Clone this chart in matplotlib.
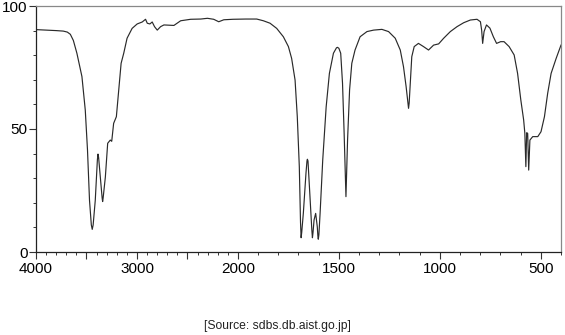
import numpy as np
import matplotlib
matplotlib.use("Agg")
import matplotlib.pyplot as plt
from matplotlib.ticker import FixedLocator, FixedFormatter

plt.rcParams['font.family'] = ['Liberation Sans', 'DejaVu Sans']

# Wavenumber (cm-1) and transmittance (%)
wavenumber = [4000, 3900, 3800, 3730, 3690, 3660, 3630, 3595, 3545, 3512, 3490,
              3470, 3452, 3443, 3434, 3413, 3392, 3386, 3380, 3363, 3345, 3340,
              3335, 3313, 3290, 3264, 3250, 3231, 3204, 3181, 3157, 3131, 3098,
              3048, 2998, 2948, 2915, 2898, 2872, 2849, 2826, 2799, 2766, 2733,
              2634, 2567, 2468, 2368, 2302, 2240, 2190, 2140, 2050, 1960, 1907,
              1874, 1841, 1808, 1775, 1750, 1734, 1717, 1706, 1696, 1690, 1687,
              1684, 1676, 1663, 1658, 1656, 1653, 1646, 1634, 1631, 1628, 1623,
              1615, 1607, 1604, 1602, 1599, 1593, 1580, 1563, 1547, 1527, 1512,
              1507, 1500, 1491, 1482, 1474, 1467, 1465, 1463, 1457, 1447, 1436,
              1420, 1395, 1361, 1328, 1287, 1254, 1221, 1196, 1180, 1167, 1158,
              1155, 1152, 1147, 1139, 1127, 1106, 1081, 1056, 1031, 1006, 981,
              948, 915, 882, 849, 816, 799, 793, 788, 781, 769, 752, 735, 719,
              699, 682, 657, 632, 615, 599, 585, 579, 574, 570, 565, 560, 554,
              540, 515, 499, 482, 466, 449, 424, 400]
transmittance = [90.4, 90.2, 90.0, 89.8, 89.4, 88.5, 86.0, 80.8, 71.3, 57.7, 41.5,
                 21.0, 11.0, 9.2, 11.0, 21.0, 37.5, 39.8, 38.5, 30.5, 22.0, 20.5,
                 22.0, 30.5, 44.2, 45.5, 45.0, 52.3, 55.0, 65.8, 76.7, 80.8, 86.9,
                 90.9, 92.7, 93.5, 94.6, 93.0, 92.7, 93.5, 91.6, 90.2, 91.6, 92.3,
                 92.1, 94.0, 94.6, 94.7, 95.0, 94.6, 93.6, 94.4, 94.6, 94.7, 94.7,
                 94.0, 93.0, 90.9, 87.5, 83.5, 78.7, 69.9, 55.0, 34.7, 12.0, 5.8,
                 8.0, 15.8, 32.0, 37.0, 37.7, 37.0, 26.5, 9.0, 5.8, 8.0, 13.0,
                 15.7, 10.3, 6.5, 5.2, 7.0, 15.8, 37.4, 59.0, 72.6, 80.8, 83.0,
                 83.2, 82.8, 80.8, 68.6, 48.3, 28.0, 22.5, 28.0, 45.5, 65.9, 76.7,
                 82.1, 87.5, 89.6, 90.2, 90.5, 89.6, 86.9, 82.1, 75.3, 67.2, 60.5,
                 58.4, 60.5, 68.0, 79.4, 83.5, 84.8, 83.5, 82.1, 84.1, 84.6, 86.9,
                 89.6, 91.6, 93.2, 94.3, 94.6, 93.6, 90.2, 84.8, 89.6, 92.3, 91.0,
                 87.5, 84.8, 85.5, 85.5, 83.5, 80.1, 72.6, 61.8, 53.7, 48.2, 34.7,
                 48.5, 48.2, 33.3, 45.5, 46.9, 46.9, 48.9, 55.0, 64.5, 72.6, 78.7,
                 84.1]

x_major = [4000, 3500, 3000, 2500, 2000, 1500, 1000, 500]
x_labels = ['4000', '', '3000', '', '2000', '1500', '1000', '500']
y_major = [0, 50, 100]
source_text = '[Source: sdbs.db.aist.go.jp]'


def fwd(w):
    w = np.asarray(w, dtype=float)
    return np.where(w > 2000, 2000 + (w - 2000) / 2.0, w)


def inv(u):
    u = np.asarray(u, dtype=float)
    return np.where(u > 2000, 2000 + (u - 2000) * 2.0, u)


fig = plt.figure(figsize=(5.65, 3.35), dpi=100)
ax = fig.add_axes([36 / 565, 1 - 252 / 335, 525 / 565, 246 / 335])
ax.set_xscale('function', functions=(fwd, inv))
ax.plot(wavenumber, transmittance, color='#2a2a2a', lw=0.85)
ax.set_xlim(4000, 400)
ax.set_ylim(0, 100)

ax.xaxis.set_major_locator(FixedLocator(x_major))
ax.xaxis.set_major_formatter(FixedFormatter(x_labels))
minor_x = [v for v in range(400, 4001, 100) if v not in x_major]
ax.xaxis.set_minor_locator(FixedLocator(minor_x))
ax.xaxis.set_minor_formatter(FixedFormatter([''] * len(minor_x)))
ax.yaxis.set_major_locator(FixedLocator(y_major))
ax.yaxis.set_minor_locator(FixedLocator([v for v in range(0, 101, 10) if v not in y_major]))

ax.tick_params(axis='both', which='major', length=5, width=0.8, labelsize=11, pad=2, color='#333333')
ax.tick_params(axis='both', which='minor', length=2.5, width=0.7, color='#333333')
ax.tick_params(axis='y', which='major', pad=1)

for side in ['left', 'bottom']:
    ax.spines[side].set_color('#222222')
    ax.spines[side].set_linewidth(0.9)
for side in ['top', 'right']:
    ax.spines[side].set_color('#888888')
    ax.spines[side].set_linewidth(0.9)

fig.text(277 / 565, 1 - 326 / 335, source_text, ha='center', va='center', fontsize=8.7, color='#222222')

fig.savefig('out.png', dpi=100)
